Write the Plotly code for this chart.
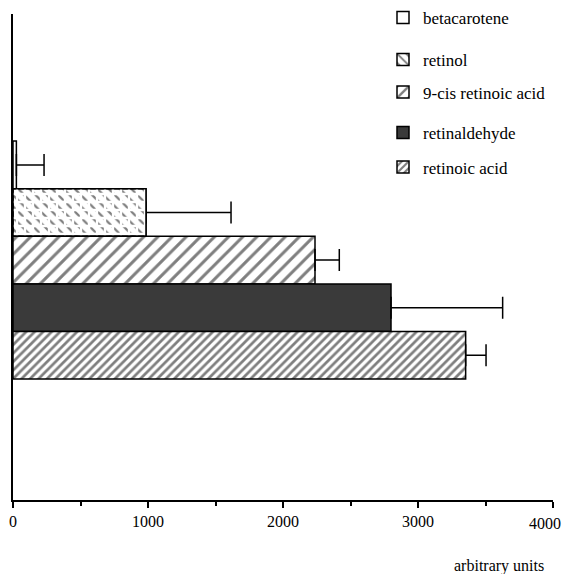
import plotly.graph_objects as go

categories = ["retinoic acid", "retinaldehyde", "9-cis retinoic acid", "retinol", "betacarotene"]
values = [3353, 2800, 2237, 985, 25]
errors = [151, 827, 180, 630, 205]
legend_order = ["betacarotene", "retinol", "9-cis retinoic acid", "retinaldehyde", "retinoic acid"]
x_ticks = [0, 1000, 2000, 3000, 4000]
x_title = "arbitrary units"

FONT = "Liberation Serif"

styles = {
    "betacarotene": dict(color="white", pattern=dict(shape="")),
    "retinol": dict(color="white", pattern=dict(shape="\\", fgcolor="black", bgcolor="white", size=8, solidity=0.28)),
    "9-cis retinoic acid": dict(color="white", pattern=dict(shape="/", fgcolor="black", bgcolor="white", size=10, solidity=0.3)),
    "retinaldehyde": dict(color="#3a3a3a", pattern=dict(shape="")),
    "retinoic acid": dict(color="white", pattern=dict(shape="/", fgcolor="black", bgcolor="white", size=6, solidity=0.45)),
}
legend_y_px = [18, 60, 92.5, 133, 167.5]

# page body has an 8px margin, so the figure is drawn 8px right/down
OFF = 8
W, H = 572 - OFF, 574 - OFF
plot_left, plot_right, plot_top, plot_bottom = 13, 553, 14, 500
visible_right = 564  # content beyond this page x is clipped

fig = go.Figure()
legend_names = ["legend", "legend2", "legend3", "legend4", "legend5"]

for i, name in enumerate(legend_order):
    idx = categories.index(name)
    st = styles[name]
    fig.add_trace(go.Bar(
        y=[name], x=[values[idx]], orientation="h", name=name,
        width=1,
        marker=dict(color=st["color"], pattern=st["pattern"], line=dict(color="black", width=1.5)),
        error_x=dict(type="data", symmetric=False, array=[errors[idx]], arrayminus=[0],
                     color="black", thickness=1.5, width=11),
        legend=legend_names[i],
    ))
    if name == "retinol":
        fig.add_trace(go.Bar(
            y=[name], x=[values[idx]], orientation="h", name=name, showlegend=False,
            width=1, hoverinfo="skip",
            marker=dict(color="rgba(255,255,255,0)",
                        pattern=dict(shape="+", fgcolor="white", fgopacity=1, bgcolor="rgba(255,255,255,0)",
                                     size=8, solidity=0.5),
                        line=dict(color="black", width=1.5)),
        ))

pw = plot_right - plot_left
ph = plot_bottom - plot_top
layout_legends = {}
for i, ln in enumerate(legend_names):
    layout_legends[ln] = dict(
        x=(383 - plot_left) / pw, xanchor="left",
        y=(plot_bottom - legend_y_px[i]) / ph, yanchor="middle",
        font=dict(family=FONT, size=17, color="black"),
        bgcolor="rgba(0,0,0,0)", borderwidth=0,
    )

fig.update_layout(
    width=W, height=H,
    margin=dict(l=plot_left - OFF, r=(OFF + W - plot_right), t=plot_top - OFF, b=(OFF + H - plot_bottom),
                autoexpand=False),
    paper_bgcolor="white", plot_bgcolor="white",
    barmode="overlay",
    showlegend=True,
    font=dict(family=FONT, size=16, color="black"),
    **layout_legends,
)
tick_text = [str(t) for t in x_ticks]
fig.update_xaxes(
    range=[0, 4000], tickvals=x_ticks, ticktext=tick_text[:-1] + [""],
    ticks="outside", ticklen=6, tickwidth=1.5, tickcolor="black",
    minor=dict(dtick=500, ticks="outside", ticklen=4, tickwidth=1.5, tickcolor="black"),
    showline=True, linecolor="black", linewidth=2, showgrid=False, zeroline=False,
    tickfont=dict(family=FONT, size=16, color="black"),
    automargin=False,
)
fig.update_yaxes(
    type="category", categoryorder="array", categoryarray=categories,
    range=[-3.04, 7.17], showticklabels=False, ticks="",
    showline=True, linecolor="black", linewidth=2, showgrid=False, zeroline=False,
    automargin=False,
)
# last tick label, right-aligned so it stays inside the visible page
fig.add_annotation(text=tick_text[-1], xref="paper", yref="paper",
                   x=(visible_right - 1 - plot_left) / pw, y=-(523 - plot_bottom) / ph,
                   xanchor="right", yanchor="middle", showarrow=False,
                   font=dict(family=FONT, size=16, color="black"))
fig.add_annotation(text=x_title, xref="paper", yref="paper", x=(499 - plot_left) / pw,
                   y=-(566 - plot_bottom) / ph,
                   xanchor="center", yanchor="middle", showarrow=False,
                   font=dict(family=FONT, size=16, color="black"))

fig.write_html("out.html")
